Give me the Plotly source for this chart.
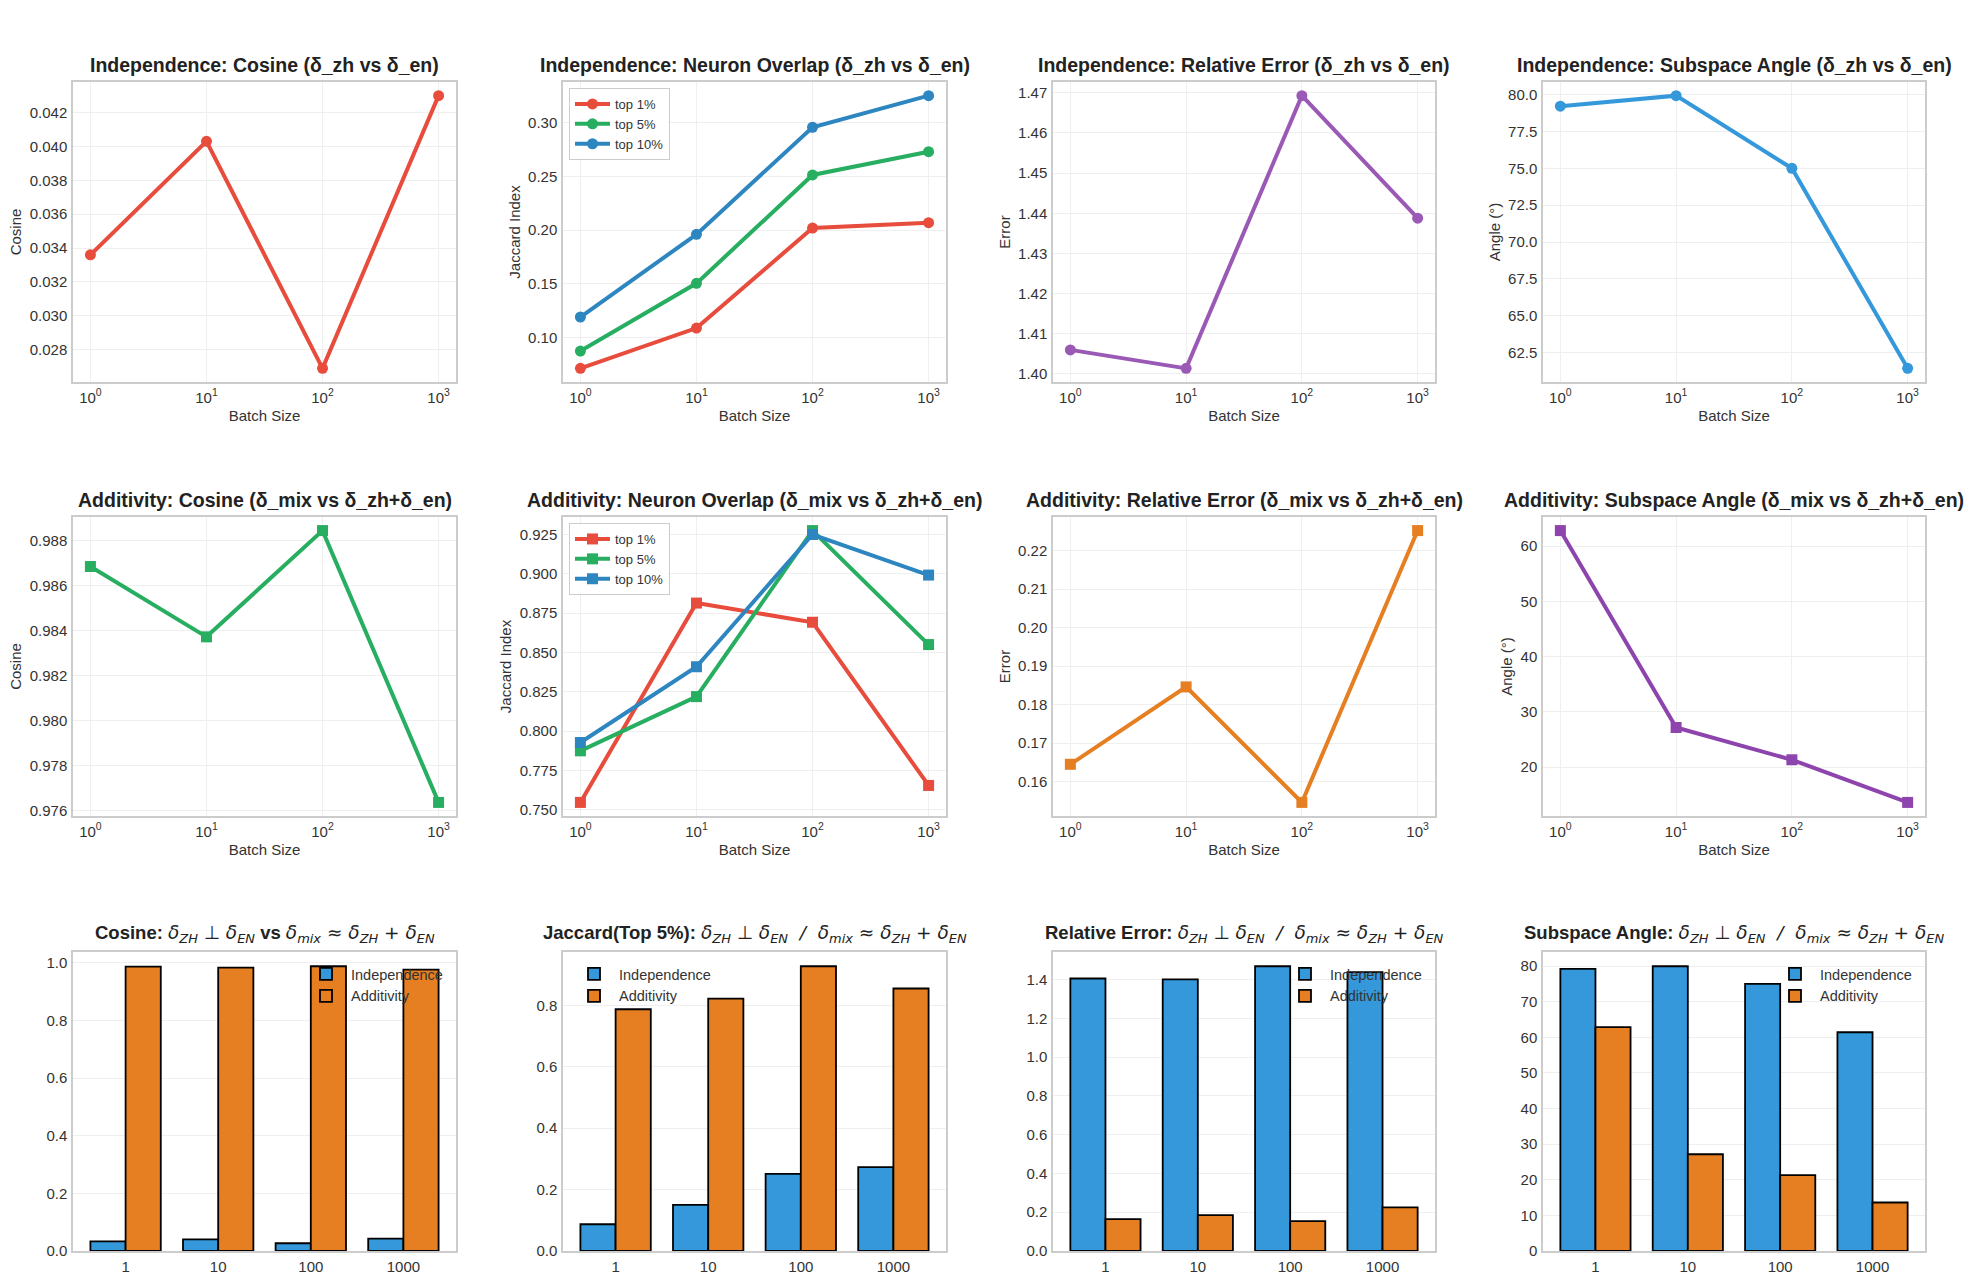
import plotly.graph_objects as go

# ---------------- data ----------------
batch = [1, 10, 100, 1000]
batch_labels = ["1", "10", "100", "1000"]
log_tick_text = ["10<sup>0</sup>", "10<sup>1</sup>", "10<sup>2</sup>", "10<sup>3</sup>"]

indep_cos = [0.0336, 0.0403, 0.0269, 0.0430]
indep_jac_top1 = [0.0711, 0.1087, 0.2020, 0.2070]
indep_jac_top5 = [0.0872, 0.1504, 0.2515, 0.2732]
indep_jac_top10 = [0.1190, 0.1961, 0.2960, 0.3255]
indep_err = [1.4060, 1.4014, 1.4693, 1.4388]
indep_angle = [79.23, 79.95, 75.01, 61.41]

add_cos = [0.98686, 0.98373, 0.98846, 0.97636]
add_jac_top1 = [0.7546, 0.8814, 0.8692, 0.7654]
add_jac_top5 = [0.7874, 0.8219, 0.9275, 0.8550]
add_jac_top10 = [0.7927, 0.8409, 0.9250, 0.8992]
add_err = [0.1645, 0.1846, 0.1546, 0.2252]
add_angle = [62.83, 27.17, 21.33, 13.61]

series_names = ["top 1%", "top 5%", "top 10%"]
bar_names = ["Independence", "Additivity"]

# ---------------- style ----------------
W, H = 1975, 1280
FONT = "Arial, Liberation Sans, Helvetica, sans-serif"
MATHFONT = "DejaVu Sans"
C_RED = "#e74c3c"
C_GREEN = "#27ae60"
C_BLUE = "#2e86c1"
C_LBLUE = "#3498db"
C_PURPLE = "#9b59b6"
C_DPURPLE = "#8e44ad"
C_ORANGE = "#e67e22"
GRID = "#efefef"
SPINE = "#cccccc"
TXT = "#333333"
TICK_SIZE = 15
LABEL_SIZE = 15
TITLE_SIZE = 19.5
TITLE3_SIZE = 18.5

col_px = [(73, 456), (563, 946), (1053, 1435), (1543, 1925)]
row_px = [(82, 382), (517, 816), (952, 1251)]


def xdom(c):
    return [col_px[c][0] / W, col_px[c][1] / W]


def ydom(r):
    return [1 - row_px[r][1] / H, 1 - row_px[r][0] / H]


def pad(vals, frac=0.05):
    lo, hi = min(vals), max(vals)
    s = hi - lo
    return [lo - frac * s, hi + frac * s]


def M(s):
    return f'<span style="font-family:{MATHFONT}">{s}</span>'


d = "<i>δ</i>"
ZH = d + "<sub><i>ZH</i></sub>"
EN = d + "<sub><i>EN</i></sub>"
MIX = d + "<sub><i>mix</i></sub>"
perp = M(f"{ZH} ⊥ {EN}")
approx = M(f"{MIX} ≈ {ZH} + {EN}")
slash = M("  <i>/</i>  ")

titles = [
    "Independence: Cosine (δ_zh vs δ_en)",
    "Independence: Neuron Overlap (δ_zh vs δ_en)",
    "Independence: Relative Error (δ_zh vs δ_en)",
    "Independence: Subspace Angle (δ_zh vs δ_en)",
    "Additivity: Cosine (δ_mix vs δ_zh+δ_en)",
    "Additivity: Neuron Overlap (δ_mix vs δ_zh+δ_en)",
    "Additivity: Relative Error (δ_mix vs δ_zh+δ_en)",
    "Additivity: Subspace Angle (δ_mix vs δ_zh+δ_en)",
    f"<b>Cosine:</b> {perp} <b>vs</b> {approx}",
    f"<b>Jaccard(Top 5%):</b> {perp}{slash}{approx}",
    f"<b>Relative Error:</b> {perp}{slash}{approx}",
    f"<b>Subspace Angle:</b> {perp}{slash}{approx}",
]

fig = go.Figure()


def ref(k):
    return ("x" if k == 1 else f"x{k}"), ("y" if k == 1 else f"y{k}")


def add_line(k, y, color, symbol, name=None, legend=None):
    xr, yr = ref(k)
    fig.add_trace(go.Scatter(
        x=batch, y=y, xaxis=xr, yaxis=yr, mode="lines+markers",
        line=dict(color=color, width=4),
        marker=dict(color=color, size=11, symbol=symbol),
        name=name or "", showlegend=name is not None,
        legend=legend if legend else "legend",
    ))


# Row 1
add_line(1, indep_cos, C_RED, "circle")
add_line(2, indep_jac_top1, C_RED, "circle", series_names[0], "legend")
add_line(2, indep_jac_top5, C_GREEN, "circle", series_names[1], "legend")
add_line(2, indep_jac_top10, C_BLUE, "circle", series_names[2], "legend")
add_line(3, indep_err, C_PURPLE, "circle")
add_line(4, indep_angle, C_LBLUE, "circle")
# Row 2
add_line(5, add_cos, C_GREEN, "square")
add_line(6, add_jac_top1, C_RED, "square", series_names[0], "legend2")
add_line(6, add_jac_top5, C_GREEN, "square", series_names[1], "legend2")
add_line(6, add_jac_top10, C_BLUE, "square", series_names[2], "legend2")
add_line(7, add_err, C_ORANGE, "square")
add_line(8, add_angle, C_DPURPLE, "square")

# Row 3 bars
bar_sets = [
    (9, indep_cos, add_cos, "legend3"),
    (10, indep_jac_top5, add_jac_top5, "legend4"),
    (11, indep_err, add_err, "legend5"),
    (12, indep_angle, add_angle, "legend6"),
]
for k, yi, ya, lg in bar_sets:
    xr, yr = ref(k)
    fig.add_trace(go.Bar(x=batch_labels, y=yi, xaxis=xr, yaxis=yr, name=bar_names[0],
                         marker=dict(color=C_LBLUE, line=dict(color="black", width=1.8)),
                         legend=lg, offsetgroup="a"))
    fig.add_trace(go.Bar(x=batch_labels, y=ya, xaxis=xr, yaxis=yr, name=bar_names[1],
                         marker=dict(color=C_ORANGE, line=dict(color="black", width=1.8)),
                         legend=lg, offsetgroup="b"))

# ---------------- axes ----------------
y_specs = {
    1: (pad(indep_cos), 0.002, ".3f", "Cosine"),
    2: (pad(indep_jac_top1 + indep_jac_top5 + indep_jac_top10), 0.05, ".2f", "Jaccard Index"),
    3: (pad(indep_err), 0.01, ".2f", "Error"),
    4: (pad(indep_angle), 2.5, ".1f", "Angle (°)"),
    5: (pad(add_cos), 0.002, ".3f", "Cosine"),
    6: (pad(add_jac_top1 + add_jac_top5 + add_jac_top10), 0.025, ".3f", "Jaccard Index"),
    7: (pad(add_err), 0.01, ".2f", "Error"),
    8: (pad(add_angle), 10, "d", "Angle (°)"),
    9: ([0, max(indep_cos + add_cos) * 1.05], 0.2, ".1f", None),
    10: ([0, max(indep_jac_top5 + add_jac_top5) * 1.05], 0.2, ".1f", None),
    11: ([0, max(indep_err + add_err) * 1.05], 0.2, ".1f", None),
    12: ([0, max(indep_angle + add_angle) * 1.05], 10, "d", None),
}

layout = {}
annotations = []
for k in range(1, 13):
    r, c = (k - 1) // 4, (k - 1) % 4
    xname = "xaxis" if k == 1 else f"xaxis{k}"
    yname = "yaxis" if k == 1 else f"yaxis{k}"
    xr, yr = ref(k)
    common = dict(showline=True, mirror=True, linecolor=SPINE, linewidth=1.5,
                  showgrid=True, gridcolor=GRID, gridwidth=1, zeroline=False,
                  ticks="outside", ticklen=1, tickcolor="rgba(0,0,0,0)",
                  tickfont=dict(size=TICK_SIZE, color=TXT, family=FONT), automargin=False)
    xa = dict(common, domain=xdom(c), anchor=yr)
    if r < 2:
        xa.update(type="log", range=[-0.15, 3.15], tickmode="array",
                  tickvals=batch, ticktext=log_tick_text,
                  title=dict(text="Batch Size", font=dict(size=LABEL_SIZE, color=TXT, family=FONT),
                             standoff=6))
    else:
        xa.update(type="category", range=[-0.568, 3.568], showgrid=False)
    rng, dt, fmt, ttl = y_specs[k]
    ya = dict(common, domain=ydom(r), anchor=xr, range=rng, dtick=dt, tick0=0, tickformat=fmt)
    if ttl:
        ya["title"] = dict(text=ttl, font=dict(size=LABEL_SIZE, color=TXT, family=FONT), standoff=4)
    layout[xname] = xa
    layout[yname] = ya
    dom = xdom(c)
    annotations.append(dict(
        text=titles[k - 1] if r == 2 else f"<b>{titles[k - 1]}</b>",
        x=(dom[0] + dom[1]) / 2, y=ydom(r)[1], xref="paper", yref="paper",
        xanchor="center", yanchor="bottom", yshift=4, showarrow=False,
        font=dict(size=TITLE3_SIZE if r == 2 else TITLE_SIZE, color="#222222", family=FONT),
    ))

line_leg = dict(xanchor="left", yanchor="top", bordercolor=SPINE, borderwidth=1,
                bgcolor="rgba(255,255,255,0.85)", font=dict(size=13, color=TXT, family=FONT),
                tracegroupgap=0, itemwidth=35)
bar_leg = dict(yanchor="top", bgcolor="rgba(0,0,0,0)", borderwidth=0,
               font=dict(size=14.5, color=TXT, family=FONT), itemwidth=40)

layout.update(
    legend=dict(line_leg, x=xdom(1)[0] + 6 / W, y=ydom(0)[1] - 6 / H),
    legend2=dict(line_leg, x=xdom(1)[0] + 6 / W, y=ydom(1)[1] - 6 / H),
    legend3=dict(bar_leg, x=xdom(0)[1] - 8 / W, y=ydom(2)[1] - 6 / H, xanchor="right"),
    legend4=dict(bar_leg, x=xdom(1)[0] + 6 / W, y=ydom(2)[1] - 6 / H, xanchor="left"),
    legend5=dict(bar_leg, x=xdom(2)[1] - 8 / W, y=ydom(2)[1] - 6 / H, xanchor="right"),
    legend6=dict(bar_leg, x=xdom(3)[1] - 8 / W, y=ydom(2)[1] - 6 / H, xanchor="right"),
)

fig.update_layout(
    width=W, height=H, margin=dict(l=0, r=0, t=0, b=0),
    paper_bgcolor="white", plot_bgcolor="white",
    font=dict(family=FONT, color=TXT),
    barmode="group", bargap=0.24, bargroupgap=0,
    annotations=annotations,
    **layout,
)

fig.write_html(
    "out.html",
    config={"displayModeBar": False},
    post_script="document.body.style.margin='0px';document.body.style.overflow='hidden';",
)
